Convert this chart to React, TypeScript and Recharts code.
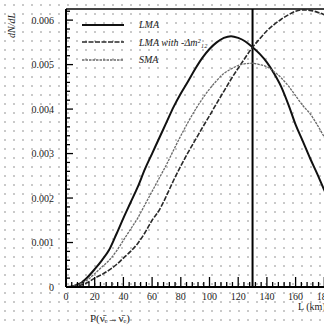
import { LineChart, Line, XAxis, YAxis, ReferenceLine } from 'recharts';

// L (km) sample points and the three curves (units of 1e-3)
const L = [0, 5, 10, 15, 20, 25, 30, 35, 40, 45, 50, 55, 60, 65, 70, 75, 80, 85, 90, 95, 100, 105, 110, 115, 120, 125, 130, 135, 140, 145, 150, 155, 160, 165, 170, 175, 180, 185, 190, 195, 200];
const lma = [0, 0.02, 0.08, 0.22, 0.4, 0.6, 0.83, 1.18, 1.55, 1.9, 2.25, 2.65, 3.0, 3.35, 3.7, 4.05, 4.35, 4.62, 4.9, 5.15, 5.35, 5.5, 5.6, 5.64, 5.6, 5.52, 5.39, 5.24, 5.05, 4.8, 4.5, 4.1, 3.65, 3.28, 2.9, 2.55, 2.18, 1.84, 1.5, 1.2, 0.9];
const lmaShift = [0, 0.01, 0.04, 0.1, 0.2, 0.28, 0.38, 0.5, 0.65, 0.8, 0.98, 1.22, 1.5, 1.73, 2.05, 2.4, 2.72, 3.02, 3.3, 3.58, 3.85, 4.13, 4.4, 4.67, 4.92, 5.16, 5.39, 5.58, 5.76, 5.9, 6.02, 6.12, 6.2, 6.23, 6.22, 6.18, 6.12, 6.03, 5.92, 5.78, 5.6];
const sma = [0, 0.02, 0.07, 0.16, 0.3, 0.45, 0.6, 0.8, 1.05, 1.3, 1.55, 1.85, 2.15, 2.45, 2.75, 3.08, 3.4, 3.7, 3.98, 4.23, 4.45, 4.64, 4.8, 4.9, 4.98, 5.02, 5.03, 5.0, 4.95, 4.84, 4.7, 4.52, 4.3, 4.08, 3.9, 3.65, 3.37, 3.08, 2.8, 2.5, 2.2];

const seriesNames = ['LMA', 'LMA with -Δm²₁₂', 'SMA'];
const xLabels = [0, 20, 40, 60, 80, 100, 120, 140, 160, 180, 200];
const L_MARK = 130;
const Y_MAX = 0.00625;

const rows = L.map((l, i) => ({ L: l, a: lma[i] / 1000, b: lmaShift[i] / 1000, c: sma[i] / 1000 }));

// minor tick positions: every 4 km, every 0.0002
const xTicks = Array.from({ length: 51 }, (_, i) => i * 4);
const yTicks = Array.from({ length: 32 }, (_, i) => Math.round(i * 2) / 10000);

const styles = [
  { key: 'a', stroke: '#111', width: 2, dash: undefined },
  { key: 'b', stroke: '#2a2a2a', width: 1.6, dash: '5 1.5' },
  { key: 'c', stroke: '#6a6a6a', width: 1.3, dash: '2.5 1' },
];

const font = '"Liberation Serif", "DejaVu Serif", serif';

function XTick({ x, y, payload }: any) {
  const major = xLabels.includes(payload.value);
  return (
    <g>
      <line x1={x} x2={x} y1={y} y2={y - (major ? 10 : 5)} stroke="#000" strokeWidth={1.3} />
      {major && (
        <text x={x} y={y + 13} textAnchor="middle" fontSize={10} fontFamily={font} fill="#222">
          {payload.value}
        </text>
      )}
    </g>
  );
}

function YTick({ x, y, payload }: any) {
  const v = payload.value as number;
  const major = Math.round(v * 10000) % 10 === 0;
  return (
    <g>
      <line x1={x} x2={x + (major ? 7 : 4)} y1={y} y2={y} stroke="#000" strokeWidth={1.3} />
      {major && (
        <text x={x - 12} y={y + 3.5} textAnchor="end" fontSize={10} fontFamily={font} fill="#222">
          {v === 0 ? '0' : v.toFixed(3)}
        </text>
      )}
    </g>
  );
}

function LegendBox() {
  return (
    <div style={{ position: 'absolute', left: 82, top: 16, fontFamily: font, fontSize: 10, fontStyle: 'italic', color: '#222' }}>
      {styles.map((s, i) => (
        <div key={s.key} style={{ display: 'flex', alignItems: 'center', height: 17.5, whiteSpace: 'nowrap' }}>
          <svg width={42} height={6} style={{ marginRight: 15 }}>
            <line x1={0} x2={42} y1={3} y2={3} stroke={s.stroke} strokeWidth={s.width} strokeDasharray={s.dash} />
          </svg>
          <span>{seriesNames[i]}</span>
        </div>
      ))}
    </div>
  );
}

export default function App() {
  return (
    <div
      style={{
        position: 'fixed', left: 0, top: 0, width: 324, height: 327, overflow: 'hidden',
        backgroundColor: '#fff',
        backgroundImage: 'radial-gradient(circle at 5px 5px, #c8c8c8 0.7px, transparent 1.1px)',
        backgroundSize: '9px 9px',
      }}
    >
      <LineChart width={360} height={327} data={rows} margin={{ top: 9, right: 7, bottom: 0, left: 0 }}>
        <XAxis dataKey="L" type="number" domain={[0, 200]} ticks={xTicks} interval={0}
          tickSize={0} tickMargin={0} tickLine={false} tick={<XTick />} height={40}
          axisLine={{ stroke: '#000', strokeWidth: 2 }} allowDataOverflow />
        <YAxis type="number" domain={[0, Y_MAX]} ticks={yTicks} interval={0}
          tickSize={0} tickMargin={0} tickLine={false} tick={<YTick />} width={66}
          axisLine={{ stroke: '#000', strokeWidth: 2 }} allowDataOverflow />
        <ReferenceLine y={Y_MAX} stroke="#444" strokeWidth={2} />
        <ReferenceLine x={L_MARK} stroke="#000" strokeWidth={2} />
        {styles.map((s, i) => (
          <Line key={s.key} type="monotone" dataKey={s.key} name={seriesNames[i]} stroke={s.stroke}
            strokeWidth={s.width} strokeDasharray={s.dash} dot={false} isAnimationActive={false} />
        ))}
      </LineChart>
      <LegendBox />
      <div style={{ position: 'absolute', left: 6, top: 8, width: 14, height: 32, fontFamily: font, fontSize: 10, fontStyle: 'italic', color: '#222' }}>
        <div style={{ transform: 'rotate(-90deg)', transformOrigin: 'left top', position: 'absolute', left: 0, top: 30, whiteSpace: 'nowrap' }}>
          dN/dL
        </div>
      </div>
      <div style={{ position: 'absolute', left: 90, top: 312, fontFamily: font, fontSize: 11, color: '#222', whiteSpace: 'nowrap' }}>
        P(ν̄ₑ→ν̄ₑ)
      </div>
      <div style={{ position: 'absolute', left: 298, top: 301, fontFamily: font, fontSize: 10, color: '#222', whiteSpace: 'nowrap' }}>
        L (km)
      </div>
    </div>
  );
}
